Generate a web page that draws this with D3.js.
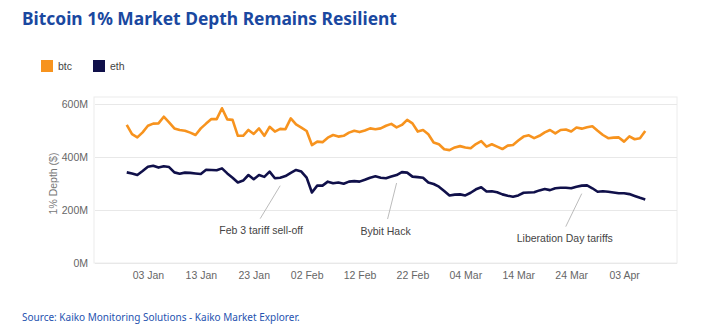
<!DOCTYPE html>
<html>
<head>
<meta charset="utf-8">
<script src="https://cdn.jsdelivr.net/npm/d3@7"></script>
<style>
  body { margin: 0; background: #fff; }
  svg text { font-family: "Liberation Sans", Arial, sans-serif; }
</style>
</head>
<body>
<svg id="chart" width="701" height="335"></svg>
<script>
// daily 1% market depth, $M, starting 30 Dec 2024
const startDate = new Date(Date.UTC(2024, 11, 30));
const btc = [
  521, 486, 474, 493, 518, 526, 527, 552, 531, 508,
  502, 499, 492, 483, 508, 526, 543, 543, 584, 542,
  540, 480, 480, 502, 487, 508, 480, 514, 496, 506,
  505, 546, 523, 511, 498, 445, 458, 456, 473, 483,
  477, 480, 492, 499, 494, 500, 508, 505, 508, 518,
  525, 512, 521, 540, 527, 496, 502, 486, 455, 448,
  429, 426, 436, 441, 436, 433, 449, 460, 439, 448,
  439, 430, 443, 445, 462, 477, 482, 471, 480, 493,
  502, 489, 502, 504, 496, 511, 507, 512, 516, 499,
  483, 471, 473, 474, 458, 478, 467, 471, 498
];
const eth = [
  342, 338, 332, 347, 363, 367, 360, 365, 362, 342,
  337, 341, 340, 338, 336, 352, 351, 350, 357, 338,
  322, 304, 311, 332, 316, 332, 325, 345, 320, 322,
  328, 340, 351, 345, 322, 266, 292, 292, 307, 301,
  304, 299, 307, 309, 307, 314, 322, 327, 322, 320,
  326, 332, 343, 341, 326, 324, 322, 304, 298, 288,
  272, 255, 258, 259, 255, 265, 278, 286, 270, 271,
  267, 259, 254, 250, 255, 265, 266, 267, 274, 279,
  275, 282, 284, 284, 282, 288, 292, 293, 282, 269,
  271, 269, 266, 263, 263, 260, 253, 246, 240
];
const yTicks = [0, 200, 400, 600];
const seriesNames = ["btc", "eth"];
const seriesColors = ["#f7931e", "#10104a"];
const annotations = [
  {label: "Feb 3 tariff sell-off", date: new Date(Date.UTC(2025, 0, 28)), series: "eth"},
  {label: "Bybit Hack", date: new Date(Date.UTC(2025, 1, 19)), series: "eth"},
  {label: "Liberation Day tariffs", date: new Date(Date.UTC(2025, 2, 26)), series: "eth"}
];

const dates = btc.map((_, i) => d3.utcDay.offset(startDate, i));
const rows = dates.map((d, i) => ({date: d, btc: btc[i], eth: eth[i]}));

const svg = d3.select("#chart");
const margin = {top: 97, right: 24, bottom: 72, left: 95};
const W = 701, H = 335;

// title
svg.append("text")
  .attr("x", 22).attr("y", 25)
  .style("font-family", "'Noto Sans', sans-serif")
  .style("font-weight", "700")
  .style("font-size", "17.4px")
  .attr("fill", "#1a48a0")
  .text("Bitcoin 1% Market Depth Remains Resilient");

// legend
const legend = svg.append("g").attr("transform", "translate(41,60)");
seriesNames.forEach((name, i) => {
  const g = legend.append("g").attr("transform", `translate(${i * 52},0)`);
  g.append("rect").attr("width", 12).attr("height", 12).attr("fill", seriesColors[i]);
  g.append("text").attr("x", 17).attr("y", 10).style("font-size", "10.5px").attr("fill", "#444").text(name);
});

const x = d3.scaleUtc()
  .domain([new Date(Date.UTC(2024, 11, 24)), new Date(Date.UTC(2025, 3, 13))])
  .range([margin.left, W - margin.right]);
const y = d3.scaleLinear().domain([0, 600]).range([263, 104]);

// frame
svg.append("rect")
  .attr("x", margin.left - 1).attr("y", margin.top)
  .attr("width", W - margin.right - margin.left + 1)
  .attr("height", y(0) - margin.top)
  .attr("fill", "none").attr("stroke", "#ececec");

// gridlines + y labels
const yAxis = svg.append("g").attr("transform", `translate(${margin.left},0)`)
  .call(d3.axisLeft(y).tickValues(yTicks).tickFormat(d => d + "M")
    .tickSize(-(W - margin.right - margin.left)).tickPadding(7));
yAxis.select(".domain").remove();
yAxis.selectAll(".tick line").attr("stroke", "#e8e8e8");
yAxis.selectAll(".tick text").attr("fill", "#666").style("font-size", "10.5px")
  .style("font-family", "'Liberation Sans', Arial, sans-serif");

svg.append("text")
  .attr("transform", `translate(57,${(y(0) + y(600)) / 2}) rotate(-90)`)
  .attr("text-anchor", "middle")
  .style("font-size", "10.5px").attr("fill", "#777")
  .text("1% Depth ($)");

// x axis
const xTicks = d3.utcDay.range(new Date(Date.UTC(2025, 0, 3)), new Date(Date.UTC(2025, 3, 4)), 10);
const xAxis = svg.append("g").attr("transform", `translate(0,${y(0)})`)
  .call(d3.axisBottom(x).tickValues(xTicks).tickFormat(d3.utcFormat("%d %b")).tickSize(0).tickPadding(9));
xAxis.select(".domain").remove();
xAxis.selectAll(".tick text").attr("fill", "#666").style("font-size", "10.5px")
  .style("font-family", "'Liberation Sans', Arial, sans-serif");

// lines
seriesNames.forEach((name, i) => {
  svg.append("path")
    .datum(rows)
    .attr("fill", "none")
    .attr("stroke", seriesColors[i])
    .attr("stroke-width", 2.6)
    .attr("stroke-linejoin", "round")
    .attr("d", d3.line().x(d => x(d.date)).y(d => y(d[name])));
});

// annotations
const annLayout = [
  {dx: -20, dy: 33, tx: -19, ty: 48},
  {dx: -9, dy: 36, tx: -11, ty: 52},
  {dx: -16, dy: 33, tx: -17, ty: 48}
];
annotations.forEach((a, i) => {
  const row = rows.find(r => +r.date === +a.date);
  const px = x(a.date), py = y(row[a.series]) + 8;
  const l = annLayout[i];
  svg.append("line")
    .attr("x1", px).attr("y1", py)
    .attr("x2", px + l.dx).attr("y2", py + l.dy)
    .attr("stroke", "#aaa").attr("stroke-width", 0.8);
  svg.append("text")
    .attr("x", px + l.tx).attr("y", py + l.ty)
    .attr("text-anchor", "middle")
    .style("font-size", "10.5px").attr("fill", "#444")
    .text(a.label);
});

// source
svg.append("text")
  .attr("x", 22).attr("y", 321)
  .style("font-family", "'Noto Sans', sans-serif")
  .style("font-size", "10px")
  .attr("fill", "#2653b0")
  .text("Source: Kaiko Monitoring Solutions - Kaiko Market Explorer.");
</script>
</body>
</html>
